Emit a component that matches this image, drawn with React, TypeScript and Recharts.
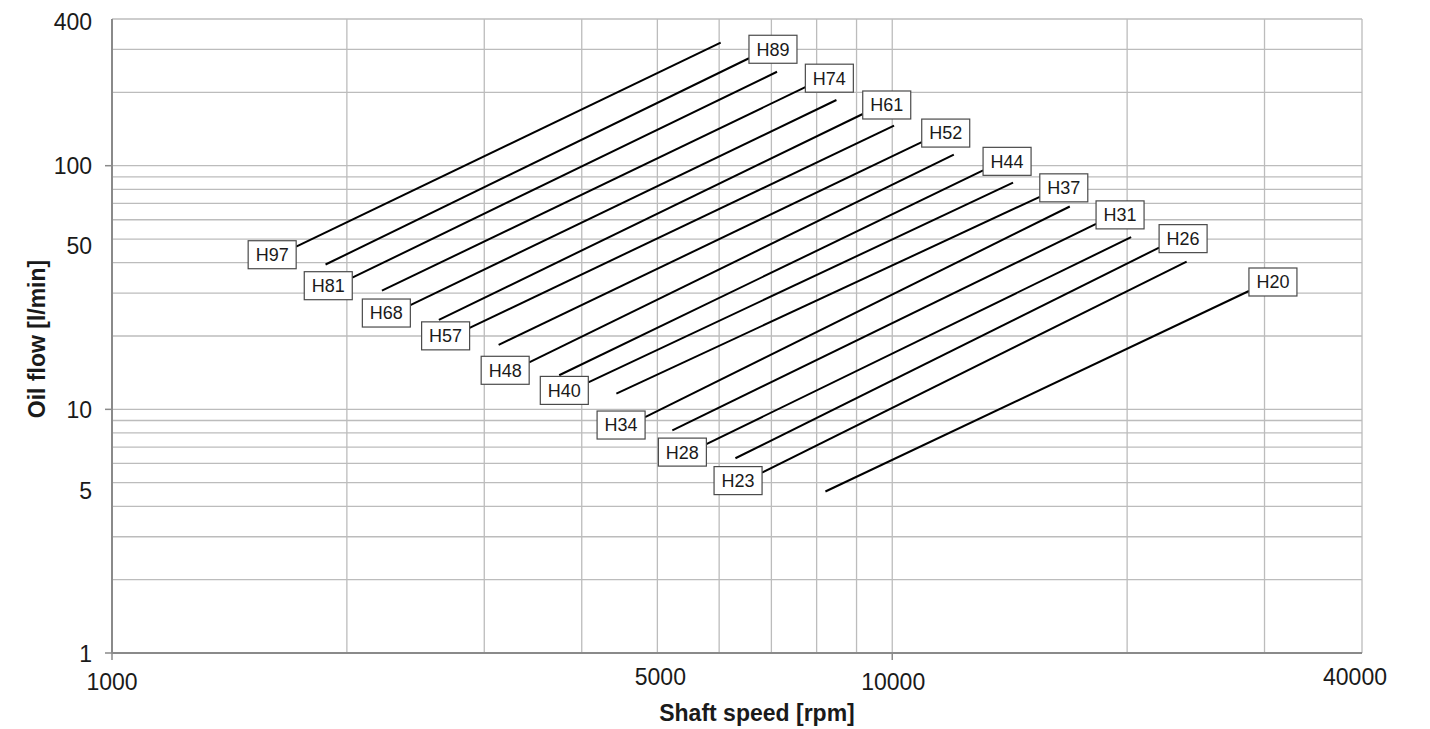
import React from 'react';
import { LineChart, Line, XAxis, YAxis, CartesianGrid } from 'recharts';

// Series names, in order from the top-left line to the bottom-right line
const seriesNames = ['H97', 'H89', 'H81', 'H74', 'H68', 'H61', 'H57', 'H52', 'H48', 'H44', 'H40', 'H37', 'H34', 'H31', 'H28', 'H26', 'H23', 'H20'];
// Lower-left end of each line
const lowSpeed = [1722, 1878, 2032, 2218, 2412, 2624, 2873, 3130, 3425, 3742, 4078, 4430, 4822, 5226, 5778, 6295, 6810, 8210];
const lowFlow = [46.5, 39.3, 34.7, 30.7, 26.8, 23.3, 21.6, 18.4, 15.6, 13.8, 12.9, 11.6, 9.3, 8.2, 7.2, 6.3, 5.5, 4.6];
// Upper-right end of each line
const highSpeed = [6027, 6552, 7117, 7738, 8481, 9166, 10053, 10909, 11993, 13074, 14283, 15456, 16886, 18248, 20238, 21979, 23838, 28652];
const highFlow = [320, 276, 243, 210, 186, 163, 146, 125, 111, 95.7, 85.2, 74.5, 68.0, 57.7, 50.9, 46.1, 40.4, 30.6];
// Where the name box sits: at the low end or the high end of the line
const labelAtLow = [true, false, true, false, true, false, true, false, true, false, true, false, true, false, true, false, true, false];

// Axis ticks (grid) and labelled ticks
const xGridTicks = [1000, 2000, 3000, 4000, 5000, 6000, 7000, 8000, 9000, 10000, 20000, 30000, 40000];
const xLabelTicks = [1000, 5000, 10000, 40000];
const yGridTicks = [1, 2, 3, 4, 5, 6, 7, 8, 9, 10, 20, 30, 40, 50, 60, 70, 80, 90, 100, 200, 300, 400];
const yLabelTicks = [1, 5, 10, 50, 100, 400];
const majorX = [1000, 10000];
const majorY = [1, 10, 100];

const FONT = '"Liberation Sans", Arial, sans-serif';
const AXIS_COLOR = '#8a8a8a';
const GRID_COLOR = '#bcbcbc';

const xNudge: Record<number, [number, number]> = { 1000: [0, 37], 5000: [3, 32], 10000: [1, 37], 40000: [-7, 32] };
const yNudge: Record<number, number> = { 1: 8.7, 5: 16.5, 10: 9, 50: 14.5, 100: 8.3, 400: 11 };

const XTick = (props: any) => {
  const { x, y, payload } = props;
  const v = payload.value;
  const n = xNudge[v] || [0, 37];
  return (
    <g>
      {majorX.includes(v) && <line x1={x} x2={x} y1={y} y2={y + 7} stroke={AXIS_COLOR} strokeWidth={1.5} />}
      {xLabelTicks.includes(v) && (
        <text x={x + n[0]} y={y + n[1]} textAnchor="middle" fontFamily={FONT} fontSize={23} fill="#1a1a1a">
          {v}
        </text>
      )}
    </g>
  );
};

const YTick = (props: any) => {
  const { x, y, payload } = props;
  const v = payload.value;
  return (
    <g>
      {majorY.includes(v) && <line x1={x - 7} x2={x} y1={y} y2={y} stroke={AXIS_COLOR} strokeWidth={1.5} />}
      {yLabelTicks.includes(v) && (
        <text x={92} y={y + (yNudge[v] ?? 8.5)} textAnchor="end" fontFamily={FONT} fontSize={23} fill="#1a1a1a">
          {v}
        </text>
      )}
    </g>
  );
};

const seriesData = seriesNames.map((name, i) => [
  { x: lowSpeed[i], y: lowFlow[i], tag: labelAtLow[i] ? name : '', side: 'low' },
  { x: highSpeed[i], y: highFlow[i], tag: labelAtLow[i] ? '' : name, side: 'high' },
]);

const BOX_W = 48;
const BOX_H = 28;

const NameDot = (props: any) => {
  const { cx, cy, payload, index } = props;
  if (!payload || !payload.tag || cx == null || cy == null) return <g key={`d-${index}`} />;
  const bx = payload.side === 'low' ? cx - BOX_W : cx;
  const by = payload.side === 'low' ? cy - 6 : cy - 23;
  return (
    <g key={`d-${index}`}>
      <rect x={bx} y={by} width={BOX_W} height={BOX_H} fill="#ffffff" stroke="#4a4a4a" strokeWidth={1.2} />
      <text x={bx + BOX_W / 2} y={by + BOX_H / 2 + 6.4} textAnchor="middle" fontFamily={FONT} fontSize={18} fill="#1a1a1a">
        {payload.tag}
      </text>
    </g>
  );
};

const XTitle = (props: any) => {
  const vb = props.viewBox || { x: 112, y: 653, width: 1250, height: 76 };
  return (
    <text x={vb.x + vb.width / 2 + 20} y={vb.y + 68} textAnchor="middle" fontFamily={FONT} fontSize={23} fontWeight="bold" fill="#1a1a1a">
      Shaft speed [rpm]
    </text>
  );
};

const YTitle = (props: any) => {
  const vb = props.viewBox || { x: 0, y: 19, width: 112, height: 634 };
  const cx = 44.5;
  const cy = vb.y + vb.height / 2 + 3;
  return (
    <text x={cx} y={cy} transform={`rotate(-90, ${cx}, ${cy})`} textAnchor="middle" fontFamily={FONT} fontSize={23} fontWeight="bold" fill="#1a1a1a">
      Oil flow [l/min]
    </text>
  );
};

export default function App() {
  return (
    <div style={{ position: 'absolute', left: 0, top: 0, width: 1430, height: 729, background: '#ffffff' }}>
      <LineChart width={1430} height={729} margin={{ top: 19, right: 68, bottom: 0, left: 0 }}>
        <CartesianGrid stroke={GRID_COLOR} strokeWidth={1.3} vertical horizontal />
        <XAxis
          type="number"
          dataKey="x"
          scale="log"
          domain={[1000, 40000]}
          allowDataOverflow
          ticks={xGridTicks}
          interval={0}
          tickSize={0}
          tickMargin={0}
          tickLine={false}
          height={76}
          axisLine={{ stroke: AXIS_COLOR, strokeWidth: 2 }}
          tick={(p: any) => <XTick {...p} />}
          label={<XTitle />}
        />
        <YAxis
          type="number"
          dataKey="y"
          scale="log"
          domain={[1, 400]}
          allowDataOverflow
          ticks={yGridTicks}
          interval={0}
          tickSize={0}
          tickMargin={0}
          tickLine={false}
          width={112}
          axisLine={{ stroke: AXIS_COLOR, strokeWidth: 2 }}
          tick={(p: any) => <YTick {...p} />}
          label={<YTitle />}
        />
        {seriesData.map((d, i) => (
          <Line
            key={seriesNames[i]}
            data={d}
            dataKey="y"
            name={seriesNames[i]}
            stroke="#000000"
            strokeWidth={2}
            dot={(p: any) => <NameDot key={`${seriesNames[i]}-${p.index}`} {...p} />}
            activeDot={false}
            isAnimationActive={false}
          />
        ))}
      </LineChart>
    </div>
  );
}
